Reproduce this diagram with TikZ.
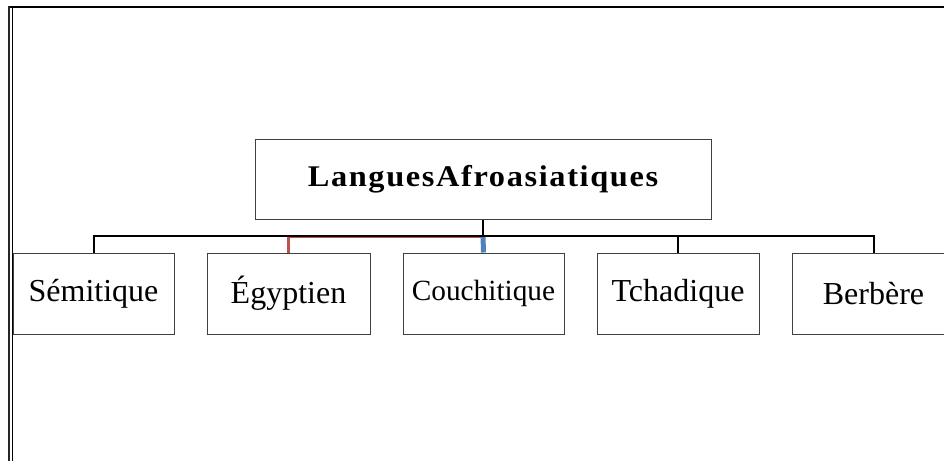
\documentclass[tikz,border=0pt]{standalone}
\usepackage{fontspec}
\setmainfont{Liberation Serif}
\newfontfamily\titlefont[LetterSpace=5]{Liberation Serif}
\begin{document}
\begin{tikzpicture}[x=1pt,y=-1pt,
  box/.style={draw=black!75,line width=1pt,rectangle,inner sep=0pt,minimum height=81pt,text=black,font=\fontsize{32}{36}\selectfont},
  conn/.style={draw=black,line width=2pt},
  redc/.style={draw={rgb,255:red,192;green,80;blue,77},line width=2.5pt},
  redh/.style={draw={rgb,255:red,192;green,80;blue,77},line width=1.2pt},
  bluec/.style={draw={rgb,255:red,79;green,129;blue,189},line width=5pt}]
\useasboundingbox (0,0) rectangle (944,461);
\clip (0,0) rectangle (944,461);
% frame
\draw[line width=2.5pt] (8,7) -- (944,7);
\draw[line width=1.3pt,black!85] (9,6) -- (9,461);
\draw[line width=1.6pt] (12.5,6) -- (12.5,461);
% nodes
\node[box,minimum width=456pt,minimum height=80pt] (title) at (483,179)
  {\scalebox{1.08}[1]{\titlefont\fontsize{30}{34}\selectfont\bfseries LanguesAfroasiatiques}};
\node[box,minimum width=161pt] (sem) at (93.5,293.5) {Sémitique};
\node[box,minimum width=163pt] (egy) at (288.5,293.5) {Égyptien};
\node[box,minimum width=161pt,font=\fontsize{29.3}{34}\selectfont] (cou) at (483.5,293.5) {Couchitique};
\node[box,minimum width=162pt] (tch) at (678,293.5) {Tchadique};
\node[box,minimum width=162pt] (ber) at (873.5,293.5) {Berbère};
% connectors
\coordinate (bus) at (483,235.7);
\coordinate (busr) at (483,237.4);
\draw[redc] (egy.north) -- (egy.north |- busr);
\draw[redh] (egy.north |- busr) -- (busr);
\draw[bluec] (cou.north) -- (bus);
\draw[conn] (sem.north) |- (bus) -| (ber.north);
\draw[conn] (tch.north) |- (bus);
\draw[conn] (title.south) -- (bus);
\end{tikzpicture}
\end{document}
